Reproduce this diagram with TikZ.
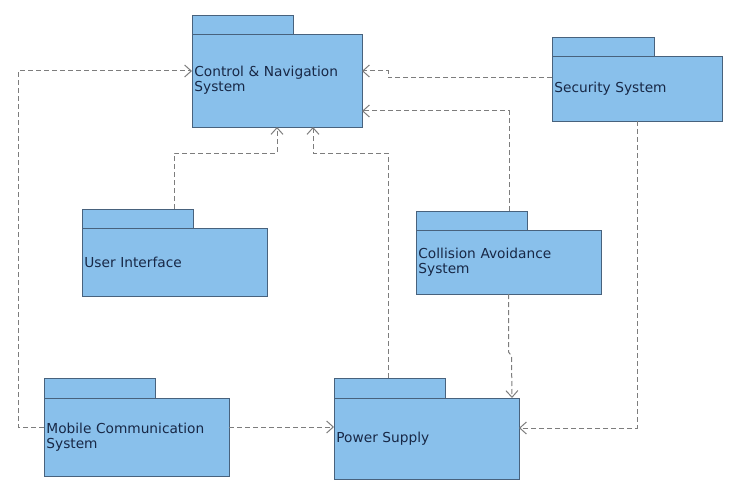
\documentclass[tikz,border=0pt]{standalone}
\usepackage{fontspec}
\newfontfamily\pkgfontfam{DejaVu Sans}
\usetikzlibrary{arrows.meta,calc}
\definecolor{pkgfill}{RGB}{137,192,235}
\definecolor{pkgborder}{RGB}{72,98,125}
\definecolor{pkgtext}{RGB}{24,40,70}
\definecolor{depgray}{RGB}{125,125,125}
\tikzset{
  pkg/.style={draw=pkgborder, fill=pkgfill, line width=0.7pt, anchor=north west, outer sep=0pt,
    font=\pkgfontfam\fontsize{10.3}{11.3}\selectfont, text=pkgtext, align=left,
    inner xsep=1.8pt, inner ysep=0pt},
  pkgtab/.style={draw=pkgborder, fill=pkgfill, line width=0.7pt},
  dep/.style={draw=depgray, line width=0.75pt, dash pattern=on 3.75pt off 2.25pt,
    -{Straight Barb[length=5pt,width=9pt,line width=0.75pt]}}
}
\begin{document}
\begin{tikzpicture}[x=0.75pt,y=-0.75pt]
\useasboundingbox (0,0) rectangle (743,503);
% packages (body nodes)
\node[pkg, minimum width=127.5pt, minimum height=69.75pt, text width=123.9pt] (cn) at (192,34) {Control \& Navigation\\System};
\node[pkg, minimum width=127.5pt, minimum height=48.75pt, text width=123.9pt] (sec) at (552,56) {Security System};
\node[pkg, minimum width=138.75pt, minimum height=51pt, text width=135.15pt] (ui) at (82,228) {User Interface};
\node[pkg, minimum width=138.75pt, minimum height=48pt, text width=135.15pt] (col) at (416,230) {Collision Avoidance\\System};
\node[pkg, minimum width=138.75pt, minimum height=58.5pt, text width=135.15pt] (mob) at (44,398) {Mobile Communication\\System};
\node[pkg, minimum width=138.75pt, minimum height=60.75pt, text width=135.15pt] (pow) at (334,398) {Power Supply};
% tabs
\draw[pkgtab] (cn.north west) rectangle ++(101,-19);
\draw[pkgtab] (sec.north west) rectangle ++(102,-19);
\draw[pkgtab] (ui.north west) rectangle ++(111,-19);
\draw[pkgtab] (col.north west) rectangle ++(111,-19);
\draw[pkgtab] (mob.north west) rectangle ++(111,-20);
\draw[pkgtab] (pow.north west) rectangle ++(111,-20);
% dependencies
\draw[dep] ([yshift=7.5pt]mob.west) -- ++(-26,0) |- ([yshift=7.125pt]cn.west);
\draw[dep] ([yshift=7.5pt]mob.east) coordinate (m1) -- (m1 -| pow.west);
\draw[dep] ([shift={(92,-19)}]ui.north west) -- ++(0,-56) -| (cn.south);
\draw[dep] ([shift={(54,-20)}]pow.north west) -- ++(0,-225) -| ([xshift=27pt]cn.south);
\draw[dep] ([shift={(93,-19)}]col.north west) |- ([yshift=-22.875pt]cn.east);
\draw[dep] ([yshift=7.875pt]sec.west) -- ++(-164,0) |- ([yshift=7.125pt]cn.east);
\draw[dep] (sec.south) |- ([yshift=7.875pt]pow.east);
\draw[dep] (col.south) -- ++(0,58) -- ++(3,4) -- ([xshift=-5.25pt]pow.north east);
\end{tikzpicture}
\end{document}
